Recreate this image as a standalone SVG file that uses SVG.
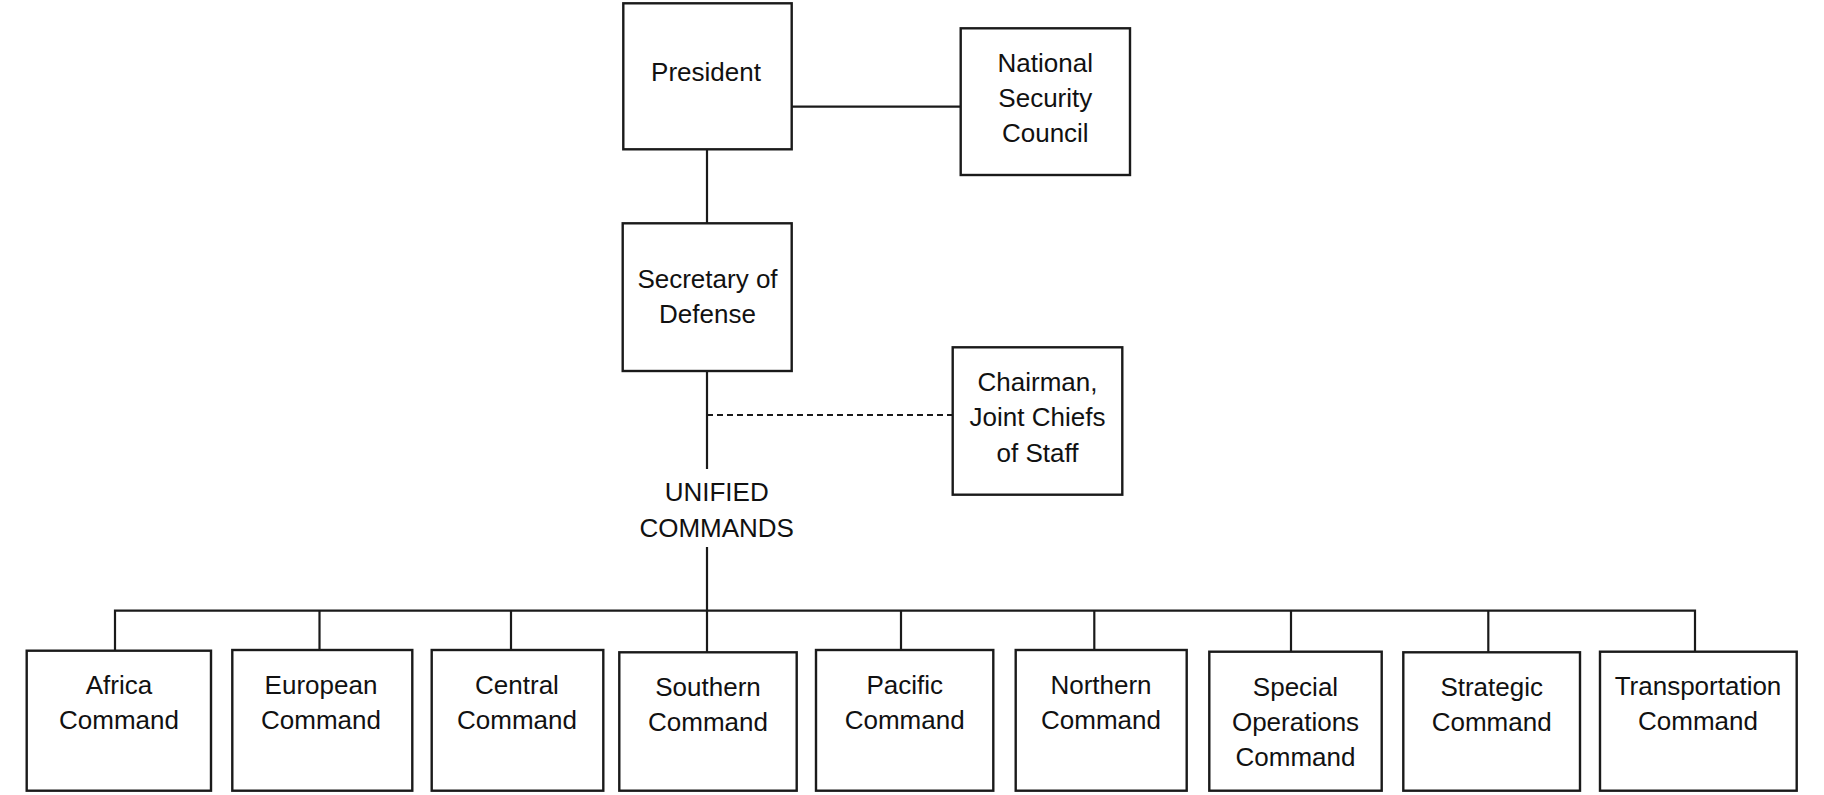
<svg xmlns="http://www.w3.org/2000/svg" width="1824" height="795" viewBox="0 0 1824 795">
<style>
  .box { fill: #ffffff; stroke: #1a1a1a; stroke-width: 2.4; }
  .ln { fill: none; stroke: #1a1a1a; stroke-width: 2.2; }
  .dash { fill: none; stroke: #1a1a1a; stroke-width: 1.8; stroke-dasharray: 6 4; }
  text { font-family: "Liberation Sans", Arial, sans-serif; font-size: 26px; fill: #111111; text-anchor: middle; }
</style>
<rect width="1824" height="795" fill="#ffffff"/>
<g id="connectors">
  <line class="ln" x1="792" y1="106.7" x2="961" y2="106.7"/>
  <line class="ln" x1="707" y1="149.3" x2="707" y2="223.3"/>
  <line class="ln" x1="707" y1="371" x2="707" y2="469"/>
  <line class="dash" x1="707" y1="415" x2="953" y2="415"/>
  <line class="ln" x1="707" y1="547" x2="707" y2="610.7"/>
  <polyline class="ln" points="115,651 115,610.7 1695,610.7 1695,651.7"/>
  <line class="ln" x1="319.5" y1="610.7" x2="319.5" y2="650"/>
  <line class="ln" x1="511" y1="610.7" x2="511" y2="650"/>
  <line class="ln" x1="707" y1="610.7" x2="707" y2="652.3"/>
  <line class="ln" x1="901" y1="610.7" x2="901" y2="650"/>
  <line class="ln" x1="1094.3" y1="610.7" x2="1094.3" y2="650"/>
  <line class="ln" x1="1291" y1="610.7" x2="1291" y2="651.7"/>
  <line class="ln" x1="1488.3" y1="610.7" x2="1488.3" y2="652.3"/>
</g>
<g id="president">
  <rect class="box" x="623.3" y="3.3" width="168.4" height="146"/>
  <text x="706" y="81.3">President</text>
</g>
<g id="nsc">
  <rect class="box" x="960.7" y="28.3" width="169.3" height="146.7"/>
  <text x="1045.3" y="71.7">National</text>
  <text x="1045.3" y="106.7">Security</text>
  <text x="1045.3" y="141.7">Council</text>
</g>
<g id="secdef">
  <rect class="box" x="622.7" y="223.3" width="169" height="147.7"/>
  <text x="707.5" y="288.3">Secretary of</text>
  <text x="707.5" y="323.3">Defense</text>
</g>
<g id="chairman">
  <rect class="box" x="952.7" y="347.3" width="169.6" height="147.4"/>
  <text x="1037.5" y="390.7">Chairman,</text>
  <text x="1037.5" y="426">Joint Chiefs</text>
  <text x="1037.5" y="461.7">of Staff</text>
</g>
<g id="unified">
  <text x="716.7" y="501.3">UNIFIED</text>
  <text x="716.7" y="536.7">COMMANDS</text>
</g>
<g id="africa">
  <rect class="box" x="26.7" y="650.7" width="184.3" height="140"/>
  <text x="119" y="694">Africa</text>
  <text x="119" y="729.3">Command</text>
</g>
<g id="european">
  <rect class="box" x="232.3" y="650" width="180" height="140.7"/>
  <text x="321" y="694">European</text>
  <text x="321" y="729.3">Command</text>
</g>
<g id="central">
  <rect class="box" x="431.7" y="650" width="171.6" height="140.7"/>
  <text x="517" y="694">Central</text>
  <text x="517" y="729.3">Command</text>
</g>
<g id="southern">
  <rect class="box" x="619.3" y="652.3" width="177.4" height="138.4"/>
  <text x="708" y="696">Southern</text>
  <text x="708" y="730.7">Command</text>
</g>
<g id="pacific">
  <rect class="box" x="816" y="650" width="177.3" height="140.7"/>
  <text x="904.7" y="694">Pacific</text>
  <text x="904.7" y="729.3">Command</text>
</g>
<g id="northern">
  <rect class="box" x="1015.7" y="650" width="171" height="140.7"/>
  <text x="1101" y="694">Northern</text>
  <text x="1101" y="729.3">Command</text>
</g>
<g id="special">
  <rect class="box" x="1209.3" y="651.7" width="172.4" height="139"/>
  <text x="1295.5" y="696">Special</text>
  <text x="1295.5" y="730.7">Operations</text>
  <text x="1295.5" y="765.7">Command</text>
</g>
<g id="strategic">
  <rect class="box" x="1403.3" y="652.3" width="176.7" height="138.4"/>
  <text x="1491.7" y="696">Strategic</text>
  <text x="1491.7" y="730.7">Command</text>
</g>
<g id="transportation">
  <rect class="box" x="1600" y="651.7" width="196.7" height="139"/>
  <text x="1698" y="695">Transportation</text>
  <text x="1698" y="730">Command</text>
</g>
</svg>
